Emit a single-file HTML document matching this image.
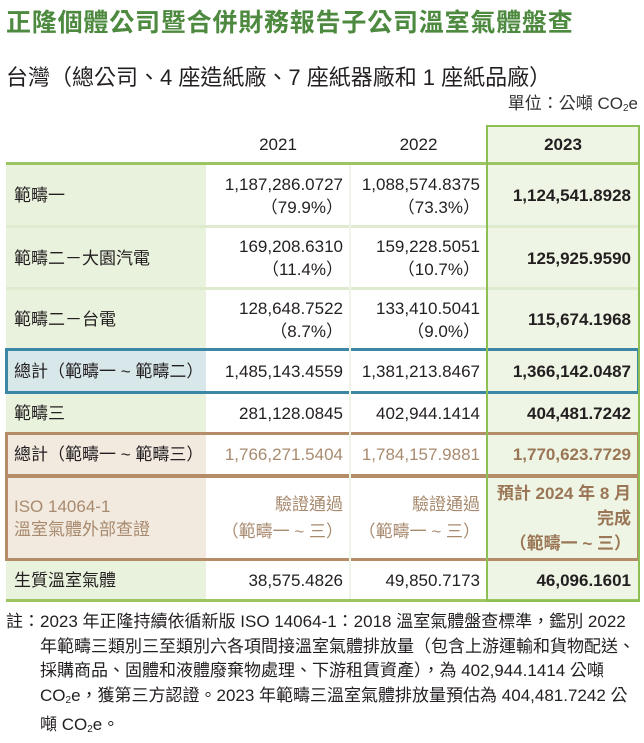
<!DOCTYPE html>
<html><head><meta charset="utf-8"><style>
body{margin:0;width:644px;height:738px;background:#fff;font-family:"Liberation Sans","Noto Sans CJK TC",sans-serif;color:#231f20;position:relative;overflow:hidden}
.a{position:absolute}
.t{left:6px;top:3px;font-size:25px;font-weight:bold;color:#4d8a3f;letter-spacing:0.8px;white-space:nowrap}
.s{left:6px;top:60px;font-size:22px;white-space:nowrap}
.u{right:6px;top:89px;font-size:17px;color:#333}
.c{position:absolute;box-sizing:border-box;font-size:17px;line-height:23px;display:flex;flex-direction:column;justify-content:center;white-space:nowrap}
.l{background:#e9f2dd;padding-left:8px}
.n{text-align:right;padding-right:7px;background:#fff}
.g{background:#eef5e4;text-align:right;padding-right:8px;font-weight:bold}
.h{position:absolute;height:3px;background:#dfebcf;left:6px;width:633px}
sub{font-size:10px;vertical-align:-2px}
</style></head><body>
<div class="a t">正隆個體公司暨合併財務報告子公司溫室氣體盤查</div>
<div class="a s">台灣（總公司、4 座造紙廠、7 座紙器廠和 1 座紙品廠）</div>
<div class="a u">單位：公噸 CO<sub>2</sub>e</div>

<div class="c n" style="left:206px;top:126px;width:144px;height:37px;text-align:center;padding:0">2021</div>
<div class="c n" style="left:350px;top:126px;width:137px;height:37px;text-align:center;padding:0">2022</div>
<div class="c g" style="left:487px;top:126px;width:152px;height:37px;text-align:center;padding:0">2023</div>
<div class="a" style="left:6px;top:162px;width:633px;height:3px;background:#9cc461"></div>

<div class="c l" style="left:6px;top:165px;width:200px;height:61px">範疇一</div>
<div class="c n" style="left:206px;top:165px;width:144px;height:61px">1,187,286.0727<br>（79.9%）</div>
<div class="c n" style="left:350px;top:165px;width:137px;height:61px">1,088,574.8375<br>（73.3%）</div>
<div class="c g" style="left:487px;top:165px;width:152px;height:61px">1,124,541.8928</div>
<div class="h" style="top:225px"></div>
<div class="c l" style="left:6px;top:228px;width:200px;height:60px">範疇二－大園汽電</div>
<div class="c n" style="left:206px;top:228px;width:144px;height:60px">169,208.6310<br>（11.4%）</div>
<div class="c n" style="left:350px;top:228px;width:137px;height:60px">159,228.5051<br>（10.7%）</div>
<div class="c g" style="left:487px;top:228px;width:152px;height:60px">125,925.9590</div>
<div class="h" style="top:287px"></div>
<div class="c l" style="left:6px;top:290px;width:200px;height:59px">範疇二－台電</div>
<div class="c n" style="left:206px;top:290px;width:144px;height:59px">128,648.7522<br>（8.7%）</div>
<div class="c n" style="left:350px;top:290px;width:137px;height:59px">133,410.5041<br>（9.0%）</div>
<div class="c g" style="left:487px;top:290px;width:152px;height:59px">115,674.1968</div>

<div class="c l" style="left:6px;top:349px;width:200px;height:44px;background:#d8e7ea">總計（範疇一 ~ 範疇二）</div>
<div class="c n" style="left:206px;top:349px;width:144px;height:44px">1,485,143.4559</div>
<div class="c n" style="left:350px;top:349px;width:137px;height:44px">1,381,213.8467</div>
<div class="c g" style="left:487px;top:349px;width:152px;height:44px">1,366,142.0487</div>
<div class="a" style="left:5px;top:348px;width:635px;height:46px;box-sizing:border-box;border:3px solid #3b87a5"></div>

<div class="c l" style="left:6px;top:394px;width:200px;height:39px">範疇三</div>
<div class="c n" style="left:206px;top:394px;width:144px;height:39px">281,128.0845</div>
<div class="c n" style="left:350px;top:394px;width:137px;height:39px">402,944.1414</div>
<div class="c g" style="left:487px;top:394px;width:152px;height:39px">404,481.7242</div>

<div class="c l" style="left:6px;top:433px;width:200px;height:43px;background:#f2e9df">總計（範疇一 ~ 範疇三）</div>
<div class="c n" style="left:206px;top:433px;width:144px;height:43px;color:#a88a6e">1,766,271.5404</div>
<div class="c n" style="left:350px;top:433px;width:137px;height:43px;color:#a88a6e">1,784,157.9881</div>
<div class="c g" style="left:487px;top:433px;width:152px;height:43px;color:#9a7656">1,770,623.7729</div>
<div class="c l" style="left:6px;top:476px;width:200px;height:84px;background:#f2e9df;color:#a88a6e">ISO 14064-1<br>溫室氣體外部查證</div>
<div class="c n" style="left:206px;top:476px;width:144px;height:84px;color:#a88a6e;line-height:27px">驗證通過<br>（範疇一 ~ 三）</div>
<div class="c n" style="left:350px;top:476px;width:137px;height:84px;color:#a88a6e;line-height:27px">驗證通過<br>（範疇一 ~ 三）</div>
<div class="c g" style="left:487px;top:476px;width:152px;height:84px;color:#9a7656;line-height:25px">預計 2024 年 8 月<br>完成<br>（範疇一 ~ 三）</div>
<div class="a" style="left:5px;top:432px;width:635px;height:45px;box-sizing:border-box;border:3px solid #b58c68"></div>
<div class="a" style="left:5px;top:475px;width:635px;height:86px;box-sizing:border-box;border:3px solid #b58c68"></div>

<div class="c l" style="left:6px;top:561px;width:200px;height:39px;background:#e9f2dd">生質溫室氣體</div>
<div class="c n" style="left:206px;top:561px;width:144px;height:39px">38,575.4826</div>
<div class="c n" style="left:350px;top:561px;width:137px;height:39px">49,850.7173</div>
<div class="c g" style="left:487px;top:561px;width:152px;height:39px">46,096.1601</div>
<div class="a" style="left:6px;top:599px;width:633px;height:3px;background:#9cc461"></div>

<div class="a" style="left:486px;top:125px;width:154px;height:477px;box-sizing:border-box;border:2px solid #8dbf55"></div>
<div class="a" style="left:349px;top:165px;width:2px;height:434px;background:#eef4e6"></div>

<div class="a" style="left:6px;top:610px;font-size:17px;line-height:24.5px;white-space:nowrap">註：2023 年正隆持續依循新版 ISO 14064-1：2018 溫室氣體盤查標準，鑑別 2022<br>
<span style="padding-left:34px">年範疇三類別三至類別六各項間接溫室氣體排放量（包含上游運輸和貨物配送、</span><br>
<span style="padding-left:34px">採購商品、固體和液體廢棄物處理、下游租賃資產），為 402,944.1414 公噸</span><br>
<span style="padding-left:34px">CO<sub>2</sub>e，獲第三方認證。2023 年範疇三溫室氣體排放量預估為 404,481.7242 公</span><br>
<span style="padding-left:34px">噸 CO<sub>2</sub>e。</span></div>
</body></html>
